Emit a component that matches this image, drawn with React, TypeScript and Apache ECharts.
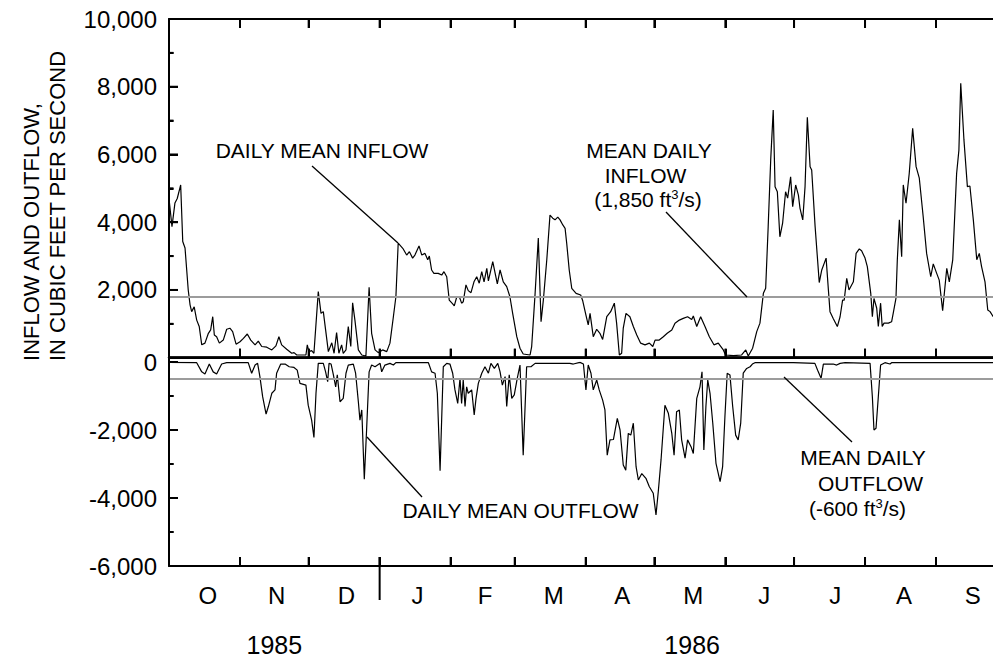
import React, { useEffect, useRef } from 'react';
import * as echarts from 'echarts';

// Day index counted from 1 October 1985 (water year 1986)
const monthStartDays = [0, 31, 61, 92, 123, 151, 182, 212, 243, 273, 304, 335, 365];
const monthTickDays = [31, 61, 92, 123, 151, 182, 212, 243, 273, 304, 335];
const monthLabels = ['O', 'N', 'D', 'J', 'F', 'M', 'A', 'M', 'J', 'J', 'A', 'S'];
const monthLabelDays = [17, 47, 77.5, 108.5, 138, 168, 198, 229, 260, 291, 321, 351];
const yearLabels = ['1985', '1986'];
const yearLabelDays = [46, 228.5];
const upperMajorTicks = [2000, 4000, 6000, 8000];
const upperMinorTicks = [1000, 3000, 5000, 7000, 9000];
const lowerMajorTicks = [-2000, -4000];
const lowerMinorTicks = [-1000, -3000, -5000];

// Daily mean inflow, ft3/s  [day, value]
const inflow: [number, number][] = [
  [0, 4700], [1.3, 3870], [2.6, 4570], [3.6, 4700], [5.1, 5100], [6.0, 3430], [7.0, 3240], [8.4, 2000],
  [9.2, 1560], [9.9, 1360], [11.0, 1500], [12.1, 1110], [13.2, 920], [14.3, 380], [15.7, 430], [17.2, 720],
  [18.2, 820], [19.1, 1210], [19.8, 670], [20.8, 620], [22.0, 430], [23.7, 520], [25.2, 840], [26.6, 870],
  [27.8, 770], [29.3, 400], [31.0, 470], [32.5, 570], [34.2, 700], [35.7, 520], [37.6, 380], [39.0, 490],
  [40.5, 330], [42.7, 310], [44.9, 230], [46.7, 350], [48.0, 620], [49.2, 380], [51.4, 250], [53.6, 130],
  [54.6, 150], [55.8, 80], [58.0, 80], [59.8, 80], [60.4, 380], [61.1, 180], [62.3, 210], [63.3, 130],
  [65.2, 1950], [66.4, 1310], [67.4, 1360], [68.4, 820], [69.6, 180], [71.1, 440], [72.1, 130], [73.2, 740],
  [74.2, 130], [75.4, 380], [76.1, 130], [77.3, 230], [78.3, 920], [79.4, 330], [80.2, 1620], [81.2, 1110],
  [82.7, 230], [84.2, 80], [86.0, 50], [87.4, 2080], [88.5, 720], [90.0, 230], [91.4, 150], [93.3, 230],
  [95.1, 180], [96.5, 430], [98.0, 1210], [99.1, 1800], [100.1, 3380], [102.1, 3230], [103.8, 3030], [105.0, 3130],
  [106.4, 2940], [107.4, 3030], [109.2, 3300], [110.4, 3030], [111.8, 3080], [113.0, 2890], [113.7, 3000], [114.7, 2590],
  [115.7, 2490], [117.6, 2490], [119.1, 2440], [120.1, 2540], [121.3, 2390], [122.4, 1700], [123.9, 1590], [124.6, 1530],
  [125.7, 1800], [126.8, 1800], [127.8, 1610], [128.5, 1650], [129.7, 2150], [130.7, 1980], [131.9, 1920], [133.2, 2240],
  [134.4, 2390], [135.5, 2200], [136.6, 2540], [137.6, 2240], [138.8, 2640], [139.5, 2270], [141.4, 2840], [143.4, 2180],
  [144.6, 2590], [146.0, 2240], [147.5, 2100], [148.9, 1800], [150.1, 1310], [151.9, 620], [153.3, 280], [154.7, 110],
  [157.7, 80], [158.4, 330], [159.9, 1900], [161.3, 3530], [162.5, 1060], [163.5, 1700], [165.0, 2890], [166.4, 4210],
  [167.6, 4120], [168.6, 4070], [169.8, 4150], [170.8, 4070], [172.0, 3920], [173.0, 3820], [173.7, 3380], [174.8, 2590],
  [175.9, 2050], [177.8, 1900], [179.8, 1850], [180.7, 1680], [182.1, 1260], [183.1, 970], [183.9, 1310], [185.3, 620],
  [186.8, 840], [188.2, 720], [189.4, 540], [191.2, 1210], [192.9, 1360], [194.5, 1610], [195.5, 1020], [196.7, 80],
  [197.7, 130], [198.4, 870], [199.6, 1310], [201.3, 1210], [202.8, 920], [204.3, 670], [206.0, 430], [207.9, 380],
  [209.8, 430], [211.3, 330], [212.3, 520], [214.1, 520], [215.9, 620], [217.6, 720], [219.6, 820], [221.0, 1020],
  [222.9, 1110], [224.6, 1160], [226.5, 1210], [228.3, 1130], [229.0, 1230], [230.5, 920], [232.2, 1210], [234.1, 920],
  [236.0, 620], [238.0, 380], [239.9, 430], [242.1, 230], [243.1, 80], [246.5, 60], [250.1, 80], [251.9, 230],
  [253.0, 50], [254.9, 280], [256.7, 770], [258.1, 1020], [259.6, 1900], [260.6, 2050], [261.7, 3870], [262.8, 5840],
  [263.9, 7310], [264.7, 5050], [265.7, 4900], [266.8, 3570], [268.0, 3970], [269.3, 4900], [270.2, 4710], [271.5, 5340],
  [272.4, 4460], [273.7, 5100], [274.9, 4800], [275.6, 4410], [276.8, 4070], [277.8, 5050], [278.8, 7100], [280.0, 5640],
  [280.7, 5540], [282.2, 3870], [284.0, 2220], [285.1, 2590], [287.0, 2940], [288.0, 2000], [288.7, 1360], [290.1, 1160],
  [291.9, 920], [293.1, 1210], [294.2, 1700], [294.9, 1700], [296.0, 2340], [297.0, 2000], [298.9, 2240], [300.1, 3080],
  [301.5, 3210], [302.5, 3160], [304.0, 2940], [305.0, 2690], [306.5, 1900], [307.2, 1210], [307.9, 1750], [309.1, 1460],
  [309.8, 920], [310.8, 1610], [311.5, 920], [312.3, 1020], [314.2, 1020], [315.6, 1060], [316.3, 1310], [317.5, 1750],
  [318.1, 2890], [319.0, 4070], [320.0, 2980], [320.7, 5100], [321.9, 4560], [323.3, 5440], [324.8, 6770], [326.3, 5640],
  [327.7, 5300], [329.4, 4160], [330.9, 3080], [332.7, 2390], [333.8, 2770], [335.3, 2490], [336.4, 2290], [337.9, 1390],
  [339.7, 2640], [340.8, 2240], [342.3, 2890], [344.0, 5440], [345.0, 6130], [345.8, 8100], [347.2, 6430], [348.7, 5050],
  [349.8, 5070], [351.3, 4070], [352.8, 2890], [353.9, 3080], [354.9, 2690], [356.4, 2240], [357.6, 1410], [358.6, 1360],
  [360.0, 1210],
];

// Daily mean outflow, ft3/s (negative)  [day, value]
const outflow: [number, number][] = [
  [0, -10], [12.1, -20], [14.3, -290], [15.7, -350], [17.6, -60], [19.3, -290], [20.8, -350], [23.0, -60],
  [25.2, -20], [34.6, -20], [36.1, -330], [37.6, -90], [38.7, -40], [39.7, -430], [40.9, -1020], [42.4, -1530],
  [43.4, -1310], [44.9, -920], [46.3, -820], [47.0, -330], [48.8, -60], [50.7, -60], [52.5, -140], [54.6, -160],
  [56.0, -240], [57.2, -630], [59.8, -680], [60.8, -1270], [62.3, -1710], [63.3, -2220], [64.2, -920], [65.2, -40],
  [67.4, -40], [68.4, -290], [69.3, -580], [69.9, -40], [70.8, -60], [71.8, -380], [72.8, -730], [73.5, -380],
  [74.7, -1170], [76.1, -1070], [77.3, -330], [78.3, -90], [80.5, -60], [81.5, -330], [82.7, -1170], [83.4, -1710],
  [84.2, -1410], [85.3, -3450], [86.3, -2000], [87.4, -290], [88.5, -90], [90.0, -140], [92.2, -40], [92.9, -290],
  [94.3, -90], [96.5, -40], [98.0, -90], [99.1, -20], [113.3, -20], [114.7, -290], [116.2, -330], [117.2, -920],
  [118.4, -3200], [119.8, -140], [121.3, -40], [122.7, -60], [123.9, -330], [124.9, -820], [126.1, -1220], [127.1, -480],
  [127.8, -1220], [128.5, -530], [129.3, -1310], [130.0, -730], [130.7, -920], [132.2, -820], [133.3, -1560], [134.1, -1070],
  [135.1, -630], [136.6, -330], [138.0, -140], [139.5, -330], [140.6, -40], [142.1, -190], [143.6, -40], [144.6, -290],
  [145.6, -680], [146.8, -430], [147.5, -1310], [148.6, -380], [149.7, -1070], [150.8, -970], [152.1, -480], [153.3, -90],
  [154.7, -2740], [156.2, -140], [158.1, -140], [159.9, -40], [175.1, -40], [176.6, -60], [179.5, -10], [181.0, -60],
  [182.1, -820], [183.1, -90], [184.3, -330], [185.3, -820], [186.8, -530], [187.9, -820], [189.4, -1120], [190.4, -1410],
  [191.4, -2740], [192.6, -2290], [194.1, -2280], [195.8, -1660], [197.0, -2000], [198.4, -3030], [199.5, -3180], [200.6, -2100],
  [201.7, -2150], [202.8, -1800], [204.0, -3080], [205.0, -3470], [206.5, -3280], [208.3, -3420], [209.8, -3670], [211.5, -3860],
  [212.7, -4500], [213.7, -3810], [214.9, -2880], [216.6, -1270], [218.1, -1510], [219.6, -2100], [220.6, -2740], [221.7, -1460],
  [222.9, -1410], [223.9, -2290], [225.4, -2830], [226.5, -2290], [228.0, -2490], [229.0, -2690], [230.5, -1070], [231.9, -730],
  [232.8, -290], [233.6, -2590], [234.5, -1310], [235.3, -530], [236.3, -920], [237.5, -1800], [238.9, -2980], [240.7, -3520],
  [241.8, -3080], [242.8, -1610], [243.8, -330], [245.0, -380], [246.2, -1310], [247.5, -2150], [248.6, -2290], [249.7, -1800],
  [250.8, -330], [252.3, -190], [253.8, -140], [254.8, -60], [255.9, -20], [272.7, -20], [282.1, -40], [283.3, -240],
  [284.8, -480], [285.8, -60], [290.1, -60], [291.6, -90], [293.1, -40], [295.3, -20], [306.2, -40], [307.2, -1020],
  [307.9, -2000], [308.8, -1950], [309.8, -1020], [310.8, -90], [312.7, -20], [314.9, -60], [315.6, -20], [360.0, -20],
];

// Positions where the grey mean lines are drawn
const meanInflowLine = 1810;
const meanOutflowLine = -480;

const FONT = '"Liberation Sans", Arial, Helvetica, sans-serif';
const fmt = (v: number) => v.toLocaleString('en-US');

function buildOption(): any {
  const axisLine = (width: number) => ({ show: true, onZero: false, lineStyle: { color: '#000', width } });
  const tick = () => ({ show: true, inside: true, length: 9, lineStyle: { color: '#000', width: 2 } });
  const xAxis = (gridIndex: number, position: string, width: number, axisLabel: any) => ({
    type: 'value',
    gridIndex,
    position,
    min: 0,
    max: 365,
    splitLine: { show: false },
    axisLine: axisLine(width),
    axisTick: { ...tick(), customValues: monthTickDays.slice() },
    axisLabel,
  });
  const yAxis = (gridIndex: number, min: number, max: number, hideZero: boolean) => ({
    type: 'value',
    gridIndex,
    min,
    max,
    interval: 2000,
    splitLine: { show: false },
    axisLine: axisLine(2),
    axisTick: tick(),
    minorTick: { show: true, splitNumber: 2, length: 4.5, lineStyle: { color: '#000', width: 2 } },
    axisLabel: {
      fontSize: 24,
      fontFamily: FONT,
      color: '#000',
      margin: 12,
      formatter: (v: number) => (hideZero && v === 0 ? '' : fmt(v)),
    },
  });
  const markLine = (value: number) => ({
    silent: true,
    symbol: 'none',
    label: { show: false },
    lineStyle: { color: '#9c9c9c', width: 1.8, type: 'solid' },
    data: [{ yAxis: value }],
  });
  return {
    animation: false,
    backgroundColor: '#fff',
    grid: [
      { left: 169, top: 19, width: 835.7, height: 338.7, outerBoundsMode: 'none' },
      { left: 169, top: 362, width: 835.7, height: 204, outerBoundsMode: 'none' },
    ],
    xAxis: [
      xAxis(0, 'bottom', 2.5, { show: false }),
      xAxis(0, 'top', 2, { show: false }),
      xAxis(1, 'bottom', 2, {
        show: true,
        customValues: monthLabelDays.slice(),
        formatter: (v: number) => monthLabels[monthLabelDays.indexOf(v)] ?? '',
        fontSize: 24,
        fontFamily: FONT,
        color: '#000',
        margin: 17,
      }),
    ],
    yAxis: [yAxis(0, 0, 10000, true), yAxis(1, -6000, 0, false)],
    series: [
      {
        name: 'Daily mean inflow',
        type: 'line',
        xAxisIndex: 0,
        yAxisIndex: 0,
        data: inflow.map((p) => p.slice()),
        symbol: 'none',
        silent: true,
        lineStyle: { color: '#000', width: 1.2 },
        markLine: markLine(meanInflowLine),
      },
      {
        name: 'Daily mean outflow',
        type: 'line',
        xAxisIndex: 2,
        yAxisIndex: 1,
        data: outflow.map((p) => p.slice()),
        symbol: 'none',
        silent: true,
        lineStyle: { color: '#000', width: 1.2 },
        markLine: markLine(meanOutflowLine),
      },
    ],
  };
}

const textEl = (x: number, y: number, t: string, size = 21, rotation = 0, align = 'center') => ({
  type: 'text',
  x,
  y,
  rotation,
  silent: true,
  z: 50,
  style: { text: t, fontSize: size, fontFamily: FONT, fill: '#000', align, verticalAlign: 'middle' },
});

const seg = (x1: number, y1: number, x2: number, y2: number, w = 2) => ({
  type: 'line',
  silent: true,
  z: 100,
  shape: { x1, y1, x2, y2 },
  style: { stroke: '#000', lineWidth: w },
});

const measure = (t: string, size: number) =>
  new echarts.graphic.Text({ style: { text: t, fontSize: size, fontFamily: FONT } }).getBoundingRect().width;

// "(… ft" + superscript "3" + "/s)" centred on cx
const supLine = (cx: number, cy: number, before: string, sup: string, after: string) => {
  const w1 = measure(before, 21);
  const w2 = measure(sup, 13);
  const w3 = measure(after, 21);
  const x0 = cx - (w1 + w2 + w3) / 2;
  return [
    textEl(x0, cy, before, 21, 0, 'left'),
    textEl(x0 + w1, cy - 5, sup, 13, 0, 'left'),
    textEl(x0 + w1 + w2, cy, after, 21, 0, 'left'),
  ];
};

export default function App() {
  const ref = useRef<HTMLDivElement>(null);
  useEffect(() => {
    document.body.style.margin = '0';
    const chart = echarts.init(ref.current!, null, { renderer: 'svg' });
    chart.setOption(buildOption());

    const px = (d: number) => chart.convertToPixel({ xAxisIndex: 2 }, d) as number;
    const pyU = (v: number) => chart.convertToPixel({ yAxisIndex: 0 }, v) as number;
    const pyL = (v: number) => chart.convertToPixel({ yAxisIndex: 1 }, v) as number;

    const xLeft = px(monthStartDays[0]);
    const xRight = px(monthStartDays[12]);
    const yTop = pyU(10000);
    const yTopZero = pyU(0);
    const yLowZero = pyL(0);
    const yBottom = pyL(-6000);
    const xJan = px(monthStartDays[3]);

    const frame: any[] = [
      seg(xLeft, yTop, xRight, yTop, 2),
      seg(xLeft, yTopZero, xRight, yTopZero, 2.5),
      seg(xLeft, yBottom, xRight, yBottom, 2),
      seg(xLeft, yTop, xLeft, yBottom, 2),
      seg(xLeft, yTopZero, xLeft, yLowZero, 2),
    ];
    monthTickDays.forEach((d) => {
      const x = px(d);
      frame.push(seg(x, yTop, x, yTop + 9));
      frame.push(seg(x, yTopZero, x, yTopZero - 9));
      frame.push(seg(x, yBottom, x, yBottom - 9));
    });
    upperMajorTicks.forEach((v) => frame.push(seg(xLeft, pyU(v), xLeft + 9, pyU(v))));
    upperMinorTicks.forEach((v) => frame.push(seg(xLeft, pyU(v), xLeft + 4.5, pyU(v))));
    lowerMajorTicks.forEach((v) => frame.push(seg(xLeft, pyL(v), xLeft + 9, pyL(v))));
    lowerMinorTicks.forEach((v) => frame.push(seg(xLeft, pyL(v), xLeft + 4.5, pyL(v))));
    // water-year separator
    frame.push(seg(xJan, yBottom - 9, xJan, yBottom + 34, 2));

    const yearX = yearLabelDays.map((d) => px(d));

    chart.setOption({
      graphic: [
        ...frame,
        textEl(yearX[0], 645, yearLabels[0], 25),
        textEl(yearX[1], 645, yearLabels[1], 25),
        // y-axis title
        textEl(31, 232, 'INFLOW AND OUTFLOW,', 22, Math.PI / 2),
        textEl(57, 206, 'IN CUBIC FEET PER SECOND', 22, Math.PI / 2),
        // annotations
        textEl(322, 150, 'DAILY MEAN INFLOW'),
        seg(312, 166, 398, 243, 1.3),
        textEl(649, 150, 'MEAN DAILY'),
        textEl(645.5, 175, 'INFLOW'),
        ...supLine(648, 199, '(1,850 ft', '3', '/s)'),
        seg(666, 212, 747, 297, 1.3),
        textEl(520.5, 510.5, 'DAILY MEAN OUTFLOW'),
        seg(367, 437, 422, 497, 1.3),
        textEl(863, 457.5, 'MEAN DAILY'),
        textEl(870.5, 483, 'OUTFLOW'),
        ...supLine(857.5, 508, '(-600 ft', '3', '/s)'),
        seg(784, 377, 852, 442, 1.3),
      ],
    });

    return () => chart.dispose();
  }, []);
  return (
    <div style={{ position: 'relative' }}>
      <div ref={ref} style={{ width: 993, height: 658 }} />
    </div>
  );
}
